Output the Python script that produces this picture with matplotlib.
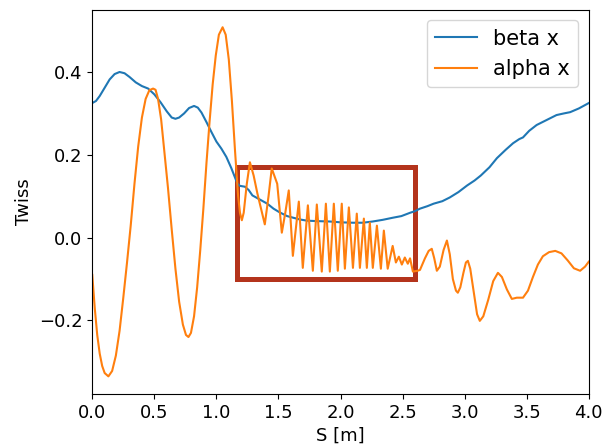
import matplotlib
matplotlib.use("Agg")
import matplotlib.pyplot as plt
from matplotlib.patches import Rectangle

plt.rcParams["font.size"] = 13

# beta x
s_beta = [0.00, 0.03, 0.06, 0.10, 0.14, 0.18, 0.22, 0.26, 0.30, 0.35, 0.40, 0.45,
          0.50, 0.55, 0.60, 0.64, 0.67, 0.70, 0.74, 0.78, 0.82, 0.85, 0.88, 0.92,
          0.96, 1.00, 1.04, 1.08, 1.12, 1.15, 1.17, 1.19, 1.23, 1.26, 1.29, 1.35,
          1.41, 1.46, 1.51, 1.57, 1.62, 1.67, 1.73, 1.80, 1.91, 2.00, 2.10, 2.18,
          2.26, 2.34, 2.42, 2.49, 2.56, 2.60, 2.64, 2.70, 2.75, 2.82, 2.88, 2.95,
          3.02, 3.08, 3.13, 3.20, 3.26, 3.33, 3.39, 3.44, 3.47, 3.52, 3.58, 3.66,
          3.74, 3.80, 3.85, 3.92, 4.00]
beta_x = [0.325, 0.330, 0.342, 0.362, 0.382, 0.395, 0.400, 0.397, 0.388, 0.375, 0.366, 0.360,
          0.346, 0.327, 0.305, 0.290, 0.287, 0.290, 0.300, 0.313, 0.318, 0.314, 0.302, 0.279,
          0.255, 0.232, 0.215, 0.195, 0.168, 0.145, 0.130, 0.125, 0.123, 0.115, 0.102, 0.092,
          0.082, 0.070, 0.061, 0.052, 0.048, 0.044, 0.041, 0.040, 0.039, 0.037, 0.036, 0.036,
          0.039, 0.043, 0.048, 0.052, 0.060, 0.064, 0.070, 0.076, 0.082, 0.088, 0.097, 0.110,
          0.126, 0.138, 0.150, 0.170, 0.192, 0.212, 0.228, 0.238, 0.242, 0.258, 0.272, 0.284,
          0.296, 0.300, 0.303, 0.312, 0.325]

# alpha x
s_alpha = [0.00, 0.02, 0.04, 0.06, 0.08, 0.10, 0.13, 0.16, 0.19, 0.22, 0.25, 0.28,
           0.31, 0.34, 0.37, 0.40, 0.43, 0.46, 0.49, 0.51, 0.53, 0.555, 0.58, 0.61,
           0.64, 0.67, 0.70, 0.73, 0.755, 0.775, 0.795, 0.82, 0.845, 0.87, 0.895, 0.92,
           0.945, 0.97, 0.995, 1.02, 1.05, 1.075, 1.10, 1.125, 1.15, 1.175, 1.19, 1.205,
           1.22, 1.245, 1.27, 1.30, 1.33, 1.39, 1.42, 1.446, 1.49, 1.527,
           1.555, 1.583, 1.616, 1.664, 1.696, 1.737, 1.777, 1.809, 1.849, 1.882, 1.914, 1.946,
           1.978, 2.010, 2.035, 2.067, 2.100, 2.131, 2.156, 2.188, 2.212, 2.236, 2.260, 2.293,
           2.325, 2.349, 2.380, 2.420, 2.446, 2.470, 2.494, 2.518, 2.542, 2.560, 2.583, 2.62,
           2.64, 2.68, 2.71, 2.735, 2.755, 2.776, 2.80, 2.83, 2.857, 2.88, 2.905, 2.93,
           2.945, 2.965, 2.99, 3.01, 3.026, 3.045, 3.07, 3.10, 3.122, 3.15, 3.19, 3.23,
           3.268, 3.30, 3.34, 3.38, 3.42, 3.47, 3.51, 3.55, 3.59, 3.63, 3.68, 3.73,
           3.78, 3.83, 3.88, 3.93, 3.97, 4.00]
alpha_x = [-0.09, -0.17, -0.235, -0.28, -0.31, -0.327, -0.335, -0.322, -0.285, -0.225, -0.145, -0.06,
           0.03, 0.13, 0.22, 0.29, 0.335, 0.356, 0.36, 0.357, 0.335, 0.285, 0.21, 0.12,
           0.02, -0.075, -0.155, -0.21, -0.235, -0.24, -0.23, -0.19, -0.12, -0.03, 0.07, 0.18,
           0.28, 0.37, 0.44, 0.49, 0.508, 0.49, 0.43, 0.33, 0.21, 0.10, 0.06, 0.042,
           0.06, 0.13, 0.182, 0.15, 0.107, 0.032, 0.10, 0.167, 0.13, 0.012,
           0.06, 0.114, -0.044, 0.087, -0.073, 0.078, -0.080, 0.080, -0.082, 0.082, -0.082, 0.082,
           -0.080, 0.082, -0.075, 0.073, -0.073, 0.058, -0.073, 0.046, -0.073, 0.036, -0.073, 0.029,
           -0.075, 0.017, -0.075, -0.020, -0.060, -0.046, -0.065, -0.048, -0.063, -0.050, -0.082, -0.080,
           -0.078, -0.050, -0.032, -0.027, -0.050, -0.080, -0.070, -0.030, -0.007, -0.040, -0.100, -0.128,
           -0.133, -0.120, -0.085, -0.060, -0.056, -0.075, -0.125, -0.185, -0.201, -0.190, -0.150, -0.105,
           -0.085, -0.095, -0.125, -0.148, -0.145, -0.145, -0.128, -0.095, -0.065, -0.045, -0.035, -0.032,
           -0.038, -0.055, -0.074, -0.080, -0.070, -0.058]

fig, ax = plt.subplots(figsize=(6.07, 4.46), dpi=100)
fig.subplots_adjust(left=0.152, right=0.970, bottom=0.117, top=0.978)

ax.plot(s_beta, beta_x, label="beta x")
ax.plot(s_alpha, alpha_x, label="alpha x")

# highlighted region
ax.add_patch(Rectangle((1.17, -0.10), 2.60 - 1.17, 0.17 + 0.10,
                       fill=False, edgecolor="#b4341c", linewidth=3.6))

ax.set_xlim(0, 4)
ax.set_xlabel("S [m]")
ax.set_ylabel("Twiss")
ax.legend(loc="upper right", fontsize=15)

plt.savefig("out.png", dpi=100)
